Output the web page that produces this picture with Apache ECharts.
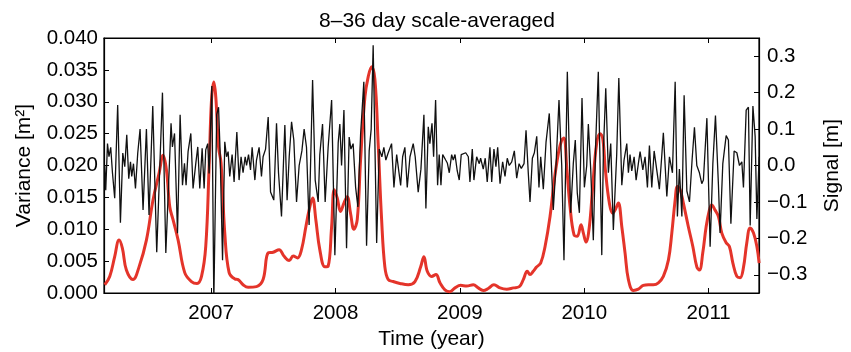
<!DOCTYPE html>
<html>
<head>
<meta charset="utf-8">
<script src="https://cdn.jsdelivr.net/npm/echarts@6/dist/echarts.min.js"></script>
<style>
  html, body { margin: 0; padding: 0; background: #fff; }
  #chart { width: 851px; height: 352px; }
</style>
</head>
<body>
<div id="chart"></div>
<script>
// time axis (decimal year)
const xMin = 2006.139, xMax = 2011.405;
const yearTicks = [2007, 2008, 2009, 2010, 2011];
const varTicks = [0, 0.005, 0.01, 0.015, 0.02, 0.025, 0.03, 0.035, 0.04];
const sigTicks = [-0.3, -0.2, -0.1, 0, 0.1, 0.2, 0.3];

// scale-averaged variance (red, left axis)
const varT = [2006.145, 2006.185, 2006.225, 2006.260, 2006.287, 2006.319, 2006.372, 2006.421, 2006.480, 2006.533,
  2006.582, 2006.614, 2006.641, 2006.668, 2006.694, 2006.735, 2006.788, 2006.842, 2006.887, 2006.923,
  2006.957, 2006.984, 2007.003, 2007.022, 2007.038, 2007.060, 2007.080, 2007.110, 2007.145, 2007.191,
  2007.217, 2007.257, 2007.298, 2007.365, 2007.418, 2007.459, 2007.499, 2007.547, 2007.585, 2007.628,
  2007.660, 2007.695, 2007.727, 2007.762, 2007.788, 2007.816, 2007.842, 2007.874, 2007.915, 2007.941,
  2007.969, 2007.990, 2008.014, 2008.041, 2008.068, 2008.094, 2008.121, 2008.148, 2008.175, 2008.202,
  2008.237, 2008.263, 2008.290, 2008.317, 2008.343, 2008.371, 2008.397, 2008.424, 2008.464, 2008.518,
  2008.585, 2008.639, 2008.685, 2008.711, 2008.738, 2008.773, 2008.808, 2008.840, 2008.880, 2008.920,
  2008.961, 2009.006, 2009.055, 2009.108, 2009.148, 2009.188, 2009.228, 2009.274, 2009.323, 2009.377,
  2009.430, 2009.478, 2009.510, 2009.542, 2009.564, 2009.590, 2009.618, 2009.650, 2009.685, 2009.725,
  2009.759, 2009.792, 2009.819, 2009.837, 2009.859, 2009.886, 2009.918, 2009.944, 2009.974, 2009.993,
  2010.014, 2010.041, 2010.068, 2010.100, 2010.127, 2010.149, 2010.170, 2010.202, 2010.229, 2010.248,
  2010.274, 2010.302, 2010.328, 2010.355, 2010.395, 2010.435, 2010.475, 2010.516, 2010.556, 2010.596,
  2010.636, 2010.677, 2010.704, 2010.731, 2010.749, 2010.771, 2010.797, 2010.837, 2010.873, 2010.905,
  2010.926, 2010.953, 2010.980, 2011.006, 2011.025, 2011.052, 2011.079, 2011.106, 2011.141, 2011.167,
  2011.195, 2011.227, 2011.253, 2011.280, 2011.307, 2011.334, 2011.361, 2011.388, 2011.406];
const varV = [0.0013, 0.0026, 0.0057, 0.0083, 0.0070, 0.0036, 0.0021, 0.0041, 0.0083, 0.0146,
  0.0188, 0.0216, 0.0193, 0.0135, 0.0115, 0.0083, 0.0032, 0.0018, 0.0015, 0.0026,
  0.0073, 0.0198, 0.0302, 0.0331, 0.0307, 0.0229, 0.0204, 0.0094, 0.0032, 0.0022,
  0.0021, 0.0013, 0.0009, 0.0010, 0.0021, 0.0063, 0.0064, 0.0068, 0.0058, 0.0051,
  0.0058, 0.0055, 0.0068, 0.0104, 0.0130, 0.0149, 0.0115, 0.0068, 0.0041, 0.0042,
  0.0104, 0.0162, 0.0149, 0.0128, 0.0141, 0.0151, 0.0125, 0.0100, 0.0115, 0.0209,
  0.0308, 0.0339, 0.0355, 0.0335, 0.0235, 0.0115, 0.0041, 0.0021, 0.0018, 0.0015,
  0.0013, 0.0018, 0.0041, 0.0057, 0.0034, 0.0026, 0.0029, 0.0016, 0.0005, 0.0002,
  0.0008, 0.0012, 0.0011, 0.0013, 0.0008, 0.0004, 0.0007, 0.0013, 0.0008, 0.0006,
  0.0008, 0.0010, 0.0021, 0.0034, 0.0029, 0.0034, 0.0041, 0.0047, 0.0073, 0.0120,
  0.0177, 0.0219, 0.0240, 0.0243, 0.0198, 0.0135, 0.0091, 0.0089, 0.0107, 0.0094,
  0.0080, 0.0104, 0.0167, 0.0235, 0.0250, 0.0242, 0.0193, 0.0141, 0.0125, 0.0130,
  0.0141, 0.0104, 0.0063, 0.0021, 0.0004, 0.0006, 0.0012, 0.0013, 0.0013, 0.0016,
  0.0026, 0.0052, 0.0094, 0.0146, 0.0167, 0.0162, 0.0141, 0.0104, 0.0073, 0.0041,
  0.0036, 0.0063, 0.0104, 0.0130, 0.0138, 0.0130, 0.0120, 0.0094, 0.0079, 0.0073,
  0.0047, 0.0026, 0.0024, 0.0040, 0.0079, 0.0102, 0.0094, 0.0073, 0.0047];

// 8-36 day band signal (black, right axis)
const sigT = [2006.145, 2006.153, 2006.167, 2006.179, 2006.193, 2006.207, 2006.225, 2006.249, 2006.271, 2006.290,
  2006.306, 2006.322, 2006.338, 2006.352, 2006.362, 2006.376, 2006.392, 2006.410, 2006.429, 2006.453,
  2006.480, 2006.501, 2006.531, 2006.563, 2006.609, 2006.636, 2006.678, 2006.689, 2006.706, 2006.730,
  2006.751, 2006.770, 2006.786, 2006.799, 2006.815, 2006.837, 2006.855, 2006.877, 2006.893, 2006.909,
  2006.928, 2006.944, 2006.957, 2006.973, 2006.984, 2007.006, 2007.022, 2007.045, 2007.060, 2007.072,
  2007.092, 2007.110, 2007.124, 2007.137, 2007.150, 2007.169, 2007.185, 2007.207, 2007.225, 2007.241,
  2007.257, 2007.274, 2007.285, 2007.301, 2007.317, 2007.330, 2007.352, 2007.365, 2007.386, 2007.405,
  2007.418, 2007.438, 2007.459, 2007.478, 2007.494, 2007.504, 2007.526, 2007.542, 2007.566, 2007.593,
  2007.611, 2007.628, 2007.647, 2007.665, 2007.687, 2007.708, 2007.730, 2007.748, 2007.767, 2007.788,
  2007.816, 2007.837, 2007.861, 2007.874, 2007.896, 2007.917, 2007.941, 2007.969, 2007.995, 2008.022,
  2008.035, 2008.049, 2008.068, 2008.089, 2008.110, 2008.124, 2008.142, 2008.162, 2008.180, 2008.202,
  2008.228, 2008.250, 2008.271, 2008.287, 2008.303, 2008.331, 2008.352, 2008.373, 2008.389, 2008.405,
  2008.422, 2008.451, 2008.470, 2008.492, 2008.508, 2008.524, 2008.540, 2008.558, 2008.577, 2008.599,
  2008.625, 2008.641, 2008.665, 2008.687, 2008.711, 2008.727, 2008.746, 2008.759, 2008.776, 2008.789,
  2008.805, 2008.821, 2008.834, 2008.848, 2008.862, 2008.886, 2008.899, 2008.915, 2008.934, 2008.947,
  2008.961, 2008.979, 2008.995, 2009.011, 2009.027, 2009.047, 2009.068, 2009.081, 2009.100, 2009.113,
  2009.135, 2009.156, 2009.167, 2009.188, 2009.204, 2009.220, 2009.242, 2009.256, 2009.274, 2009.290,
  2009.304, 2009.323, 2009.344, 2009.363, 2009.381, 2009.397, 2009.417, 2009.438, 2009.457, 2009.476,
  2009.494, 2009.516, 2009.532, 2009.550, 2009.564, 2009.583, 2009.599, 2009.618, 2009.636, 2009.650,
  2009.671, 2009.693, 2009.719, 2009.751, 2009.773, 2009.797, 2009.819, 2009.837, 2009.864, 2009.891,
  2009.912, 2009.928, 2009.944, 2009.961, 2009.982, 2010.001, 2010.020, 2010.033, 2010.052, 2010.073,
  2010.093, 2010.113, 2010.141, 2010.154, 2010.173, 2010.194, 2010.213, 2010.234, 2010.261, 2010.278,
  2010.302, 2010.320, 2010.342, 2010.355, 2010.368, 2010.382, 2010.401, 2010.417, 2010.435, 2010.449,
  2010.471, 2010.489, 2010.508, 2010.524, 2010.543, 2010.562, 2010.578, 2010.604, 2010.624, 2010.636,
  2010.664, 2010.685, 2010.709, 2010.731, 2010.749, 2010.765, 2010.785, 2010.803, 2010.825, 2010.846,
  2010.867, 2010.886, 2010.905, 2010.926, 2010.945, 2010.958, 2010.986, 2011.012, 2011.034, 2011.055,
  2011.079, 2011.092, 2011.114, 2011.141, 2011.159, 2011.179, 2011.205, 2011.227, 2011.248, 2011.267,
  2011.280, 2011.302, 2011.320, 2011.334, 2011.356, 2011.374, 2011.388, 2011.406];
const sigV = [0.000, -0.068, 0.060, 0.024, 0.050, -0.020, -0.090, 0.166, -0.157, 0.034,
  -0.003, 0.084, -0.036, 0.010, -0.030, 0.005, -0.063, 0.033, 0.100, -0.122,
  0.100, -0.136, 0.163, -0.238, 0.200, -0.240, 0.116, 0.051, 0.088, -0.186,
  0.139, -0.054, 0.006, -0.054, 0.038, 0.088, -0.063, 0.006, 0.051, -0.063,
  0.047, -0.063, 0.043, 0.060, -0.022, 0.218, -0.370, 0.140, 0.160, 0.043,
  -0.260, 0.065, 0.024, 0.038, -0.030, 0.030, -0.045, 0.092, -0.040, 0.024,
  -0.020, 0.024, 0.000, 0.030, -0.012, 0.050, -0.040, 0.015, 0.050, -0.030,
  0.024, 0.045, 0.133, -0.073, -0.075, -0.095, 0.116, -0.020, -0.140, 0.111,
  -0.095, 0.024, 0.120, 0.070, -0.100, 0.000, 0.040, 0.100, 0.050, -0.163,
  0.235, -0.040, -0.100, 0.030, 0.114, -0.100, 0.050, 0.180, -0.246, 0.063,
  0.114, 0.000, 0.152, -0.227, 0.078, 0.045, 0.060, -0.060, -0.114, 0.086,
  0.230, -0.220, 0.040, 0.100, 0.330, -0.213, 0.045, 0.024, 0.050, 0.015,
  0.033, 0.060, -0.060, 0.030, 0.035, -0.055, 0.024, 0.050, -0.060, 0.024,
  0.060, 0.024, -0.073, -0.010, 0.139, -0.118, 0.106, 0.060, 0.116, 0.024,
  0.180, -0.054, 0.030, -0.054, 0.030, 0.015, 0.007, -0.020, 0.030, 0.015,
  0.030, -0.015, -0.040, 0.030, 0.035, 0.035, 0.024, -0.045, 0.045, -0.040,
  0.024, 0.005, 0.020, -0.010, 0.020, -0.045, 0.050, -0.045, 0.045, -0.003,
  0.050, -0.050, 0.010, -0.030, 0.020, 0.000, 0.010, 0.040, -0.035, 0.005,
  -0.008, 0.005, 0.097, -0.020, -0.100, 0.020, 0.035, 0.080, -0.060, 0.024,
  -0.065, 0.065, 0.143, -0.122, 0.000, 0.180, 0.000, -0.260, 0.257, -0.130,
  0.005, 0.070, -0.075, -0.130, 0.185, -0.060, 0.000, 0.114, -0.010, -0.205,
  0.070, 0.257, -0.246, 0.040, 0.212, -0.020, 0.060, -0.177, 0.030, 0.240,
  -0.054, 0.015, 0.060, -0.020, 0.030, -0.015, 0.024, -0.040, 0.005, 0.038,
  -0.012, 0.024, -0.060, 0.055, -0.060, 0.040, 0.045, -0.065, 0.030, 0.090,
  -0.085, 0.024, -0.020, 0.230, -0.140, -0.010, -0.140, 0.193, -0.070, -0.100,
  0.015, 0.105, 0.000, -0.020, -0.050, -0.040, 0.130, -0.223, 0.005, 0.137,
  -0.054, -0.185, 0.005, 0.082, 0.070, -0.160, 0.040, 0.035, 0.000, 0.010,
  -0.060, 0.152, 0.160, -0.165, 0.163, 0.080, -0.147, 0.024];

const zip = (t, v) => t.map((x, i) => [x, v[i]]);

const font = 'Liberation Sans, Arial, Helvetica, sans-serif';
const tickStyle = { inside: true, length: 5, lineStyle: { color: '#000', width: 1 } };
const axisLineStyle = { show: true, onZero: false, lineStyle: { color: '#000', width: 1.2 } };

let myChart = echarts.init(document.getElementById('chart'), null, { renderer: 'canvas' });
let option = {
  animation: false,
  backgroundColor: '#fff',
  textStyle: { fontFamily: font, color: '#000' },
  title: {
    text: '8\u201336 day scale-averaged',
    left: 432,
    textAlign: 'center',
    top: 6,
    textStyle: { fontFamily: font, fontSize: 21, fontWeight: 'normal', color: '#000' }
  },
  grid: {
    left: 104,
    right: 92,
    top: 38,
    bottom: 59,
    outerBoundsMode: 'none',
    show: true,
    borderColor: '#000',
    borderWidth: 1.2
  },
  xAxis: [
    {
      type: 'value',
      min: xMin,
      max: xMax,
      position: 'bottom',
      name: 'Time (year)',
      nameLocation: 'middle',
      nameGap: 36,
      nameTextStyle: { fontFamily: font, fontSize: 21, color: '#000' },
      axisLine: axisLineStyle,
      axisTick: { ...tickStyle, customValues: yearTicks },
      axisLabel: {
        customValues: yearTicks,
        formatter: v => String(Math.round(v)),
        fontFamily: font, fontSize: 20.5, color: '#000', margin: 10
      },
      splitLine: { show: false }
    },
    {
      type: 'value',
      min: xMin,
      max: xMax,
      position: 'top',
      axisLine: axisLineStyle,
      axisTick: { ...tickStyle, customValues: yearTicks },
      axisLabel: { show: false },
      splitLine: { show: false }
    }
  ],
  yAxis: [
    {
      type: 'value',
      min: 0,
      max: 0.04,
      interval: 0.005,
      position: 'left',
      name: 'Variance [m\u00b2]',
      nameLocation: 'middle',
      nameRotate: 90,
      nameGap: 69,
      nameTextStyle: { fontFamily: font, fontSize: 21, color: '#000' },
      axisLine: axisLineStyle,
      axisTick: { ...tickStyle, customValues: varTicks },
      axisLabel: {
        customValues: varTicks,
        formatter: v => v.toFixed(3),
        fontFamily: font, fontSize: 20.5, color: '#000', margin: 6
      },
      splitLine: { show: false }
    },
    {
      type: 'value',
      min: -0.35,
      max: 0.35,
      position: 'right',
      name: 'Signal [m]',
      nameLocation: 'middle',
      nameRotate: 90,
      nameGap: 63,
      nameTextStyle: { fontFamily: font, fontSize: 21, color: '#000' },
      axisLine: axisLineStyle,
      axisTick: { ...tickStyle, customValues: sigTicks },
      axisLabel: {
        customValues: sigTicks,
        formatter: v => v.toFixed(1).replace('-', '\u2212'),
        fontFamily: font, fontSize: 20.5, color: '#000', margin: 8
      },
      splitLine: { show: false }
    }
  ],
  series: [
    {
      name: 'Variance',
      type: 'line',
      xAxisIndex: 0,
      yAxisIndex: 0,
      data: zip(varT, varV),
      showSymbol: false,
      smooth: 0.4,
      clip: true,
      lineStyle: { color: '#e4342a', width: 3 },
      z: 2
    },
    {
      name: 'Signal',
      type: 'line',
      xAxisIndex: 0,
      yAxisIndex: 1,
      data: zip(sigT, sigV),
      showSymbol: false,
      clip: true,
      lineStyle: { color: '#111', width: 1.3 },
      z: 3
    }
  ]
};
myChart.setOption(option);
</script>
</body>
</html>
